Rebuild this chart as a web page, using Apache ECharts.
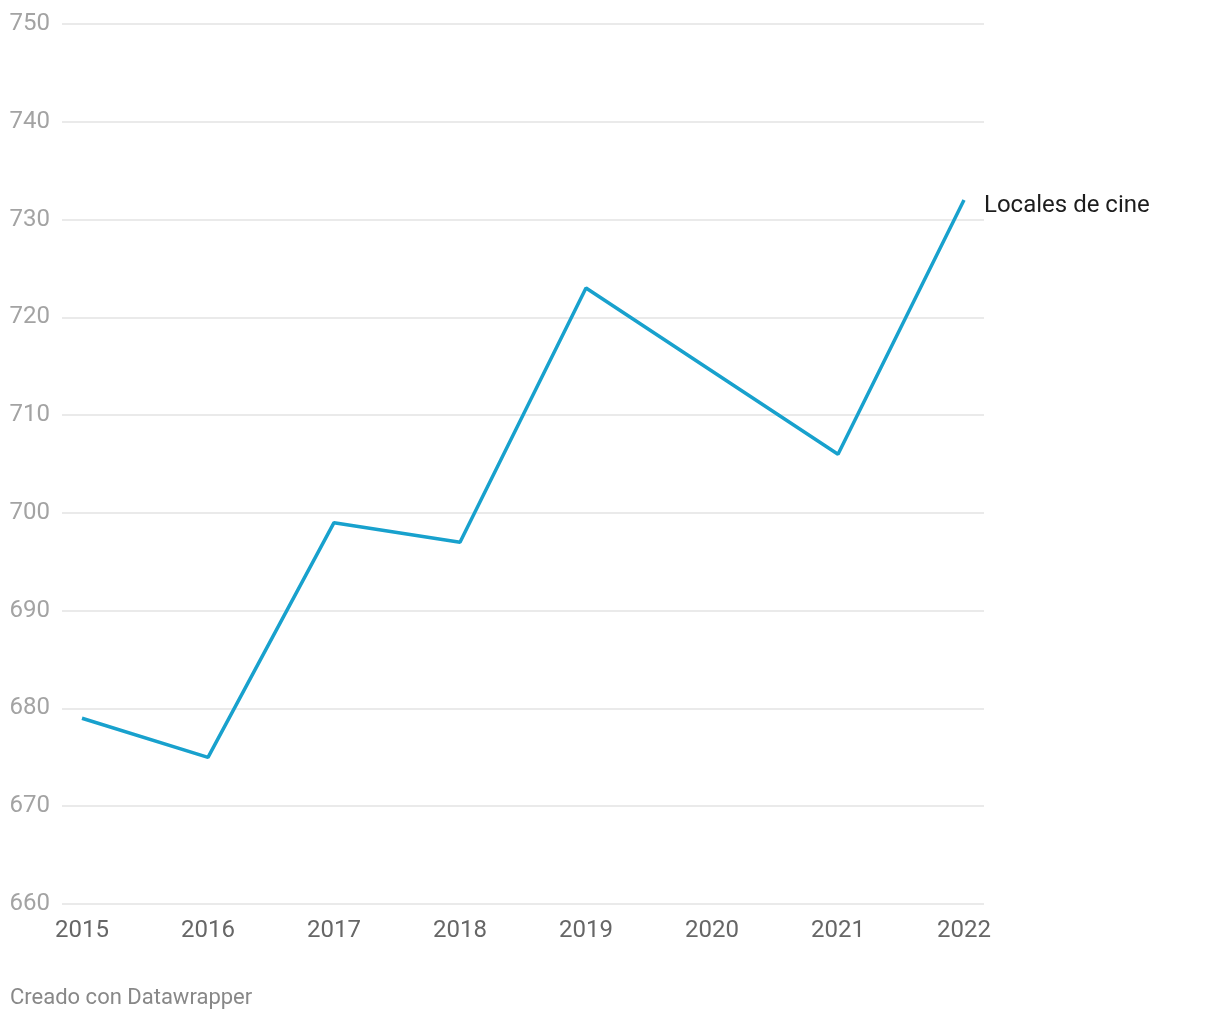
<!DOCTYPE html>
<html><head><meta charset="utf-8">
<script src="https://cdn.jsdelivr.net/npm/echarts@6/dist/echarts.min.js"></script>
<style>html,body{margin:0;padding:0;background:#fff}#c{width:1220px;height:1020px}</style>
</head><body><div id="c"></div>
<script>
const years = [2015, 2016, 2017, 2018, 2019, 2020, 2021, 2022];
// 2020 not plotted as its own vertex in the reference: the line runs straight 2019 -> 2021
const locales = [679, 675, 699, 697, 723, null, 706, 732];
const seriesName = 'Locales de cine';
const yTicks = [660, 670, 680, 690, 700, 710, 720, 730, 740, 750];

const chart = echarts.init(document.getElementById('c'));
const pad = 20 / 126;
chart.setOption({
  animation: false,
  textStyle: { fontFamily: 'Roboto' },
  grid: { left: 62, right: 236, top: 24, bottom: 116, containLabel: false },
  xAxis: {
    type: 'value',
    min: years[0] - pad,
    max: years[years.length - 1] + pad,
    axisLine: { show: false },
    axisTick: { show: false },
    splitLine: { show: false },
    axisLabel: {
      customValues: years,
      formatter: v => String(v),
      color: '#666', fontSize: 24, margin: 15, fontFamily: 'Roboto'
    }
  },
  yAxis: {
    type: 'value',
    min: yTicks[0], max: yTicks[yTicks.length - 1], interval: 10,
    axisLine: { show: false },
    axisTick: { show: false },
    splitLine: { lineStyle: { color: '#e3e3e3', width: 1.5 } },
    axisLabel: { color: '#a3a3a3', fontSize: 24, margin: 12, fontFamily: 'Roboto', verticalAlign: 'middle', padding: [2, 0, 0, 0] }
  },
  series: [{
    name: seriesName,
    type: 'line',
    data: years.map((y, i) => [y, locales[i]]),
    connectNulls: true,
    symbol: 'none',
    lineStyle: { color: '#18a1cd', width: 3.5 },
    endLabel: {
      show: true, formatter: seriesName, color: '#1d1d1d', fontSize: 24,
      distance: 20, offset: [0, 6], fontFamily: 'Roboto'
    }
  }],
  graphic: [{
    type: 'text', left: 10, top: 987,
    style: { text: 'Creado con Datawrapper', fill: '#888', fontSize: 22, fontFamily: 'Roboto' }
  }]
});
</script></body></html>
